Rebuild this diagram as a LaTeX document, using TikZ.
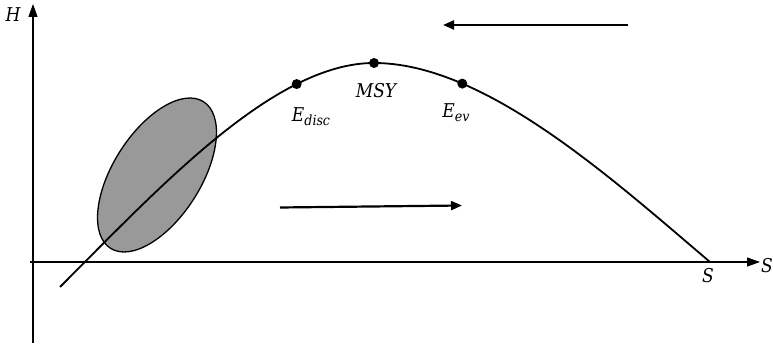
\documentclass[tikz,border=0pt]{standalone}
\usepackage{fontspec}
\newfontfamily\labfont{DejaVu Serif Condensed}
\usetikzlibrary{arrows.meta}
\begin{document}
\begin{tikzpicture}[x=1pt,y=1pt,
  axis/.style={line width=1.2pt,-{Triangle[length=13pt,width=9pt]}},
  flowarrow/.style={line width=2.2pt,-{Triangle[length=11pt,width=9pt]}},
  curve/.style={line width=1.8pt},
  dot/.style={circle,fill=black,inner sep=0pt,minimum size=10pt},
  lab/.style={font=\labfont\itshape\fontsize{19}{22}\selectfont,inner sep=0pt}]
\useasboundingbox (0,0) rectangle (773,347);
% ellipse
\draw[line width=1.3pt,fill=black!40] (157,172) ellipse [x radius=86.8, y radius=43.9, rotate=57.6];
% axes
\coordinate (ox) at (30,85);
\coordinate (xend) at (760,85);
\coordinate (oy) at (33,4);
\coordinate (yend) at (33,343);
\draw[axis] (ox) -- (xend);
\draw[axis] (oy) -- (yend);
% curve
\coordinate (c0) at (60,60);
\coordinate (cpk) at (374,284);
\coordinate (cend) at (710,85);
\draw[curve] (c0) .. controls (159,159) and (274,284) .. coordinate[pos=0.75] (edpos) (cpk)
  .. controls (484,284) and (610,170) .. coordinate[pos=0.26] (eevpos) (cend);
% points on curve
\node[dot] (ed) at (edpos) {};
\node[dot] (msy) at (cpk) {};
\node[dot] (eev) at (eevpos) {};
% arrows
\coordinate (ta1) at (628,322);
\coordinate (ta2) at (443,322);
\draw[flowarrow] (ta1) -- (ta2);
\coordinate (ba1) at (280,139.5);
\coordinate (ba2) at (462,141.5);
\draw[flowarrow] (ba1) -- (ba2);
% labels
\node[lab] (h) at (13,332) {H};
\node[lab] (sx) at (767,81) {S};
\node[lab] (sc) at (708,71) {S};
\node[lab,anchor=base] (lmsy) at (376,249) {MSY};
\node[lab,anchor=base] (led) at (311,225) {E\raisebox{-4pt}{\fontsize{14}{16}\selectfont disc}};
\node[lab,anchor=base] (lev) at (456,229) {E\raisebox{-4pt}{\fontsize{14}{16}\selectfont ev}};
\end{tikzpicture}
\end{document}
